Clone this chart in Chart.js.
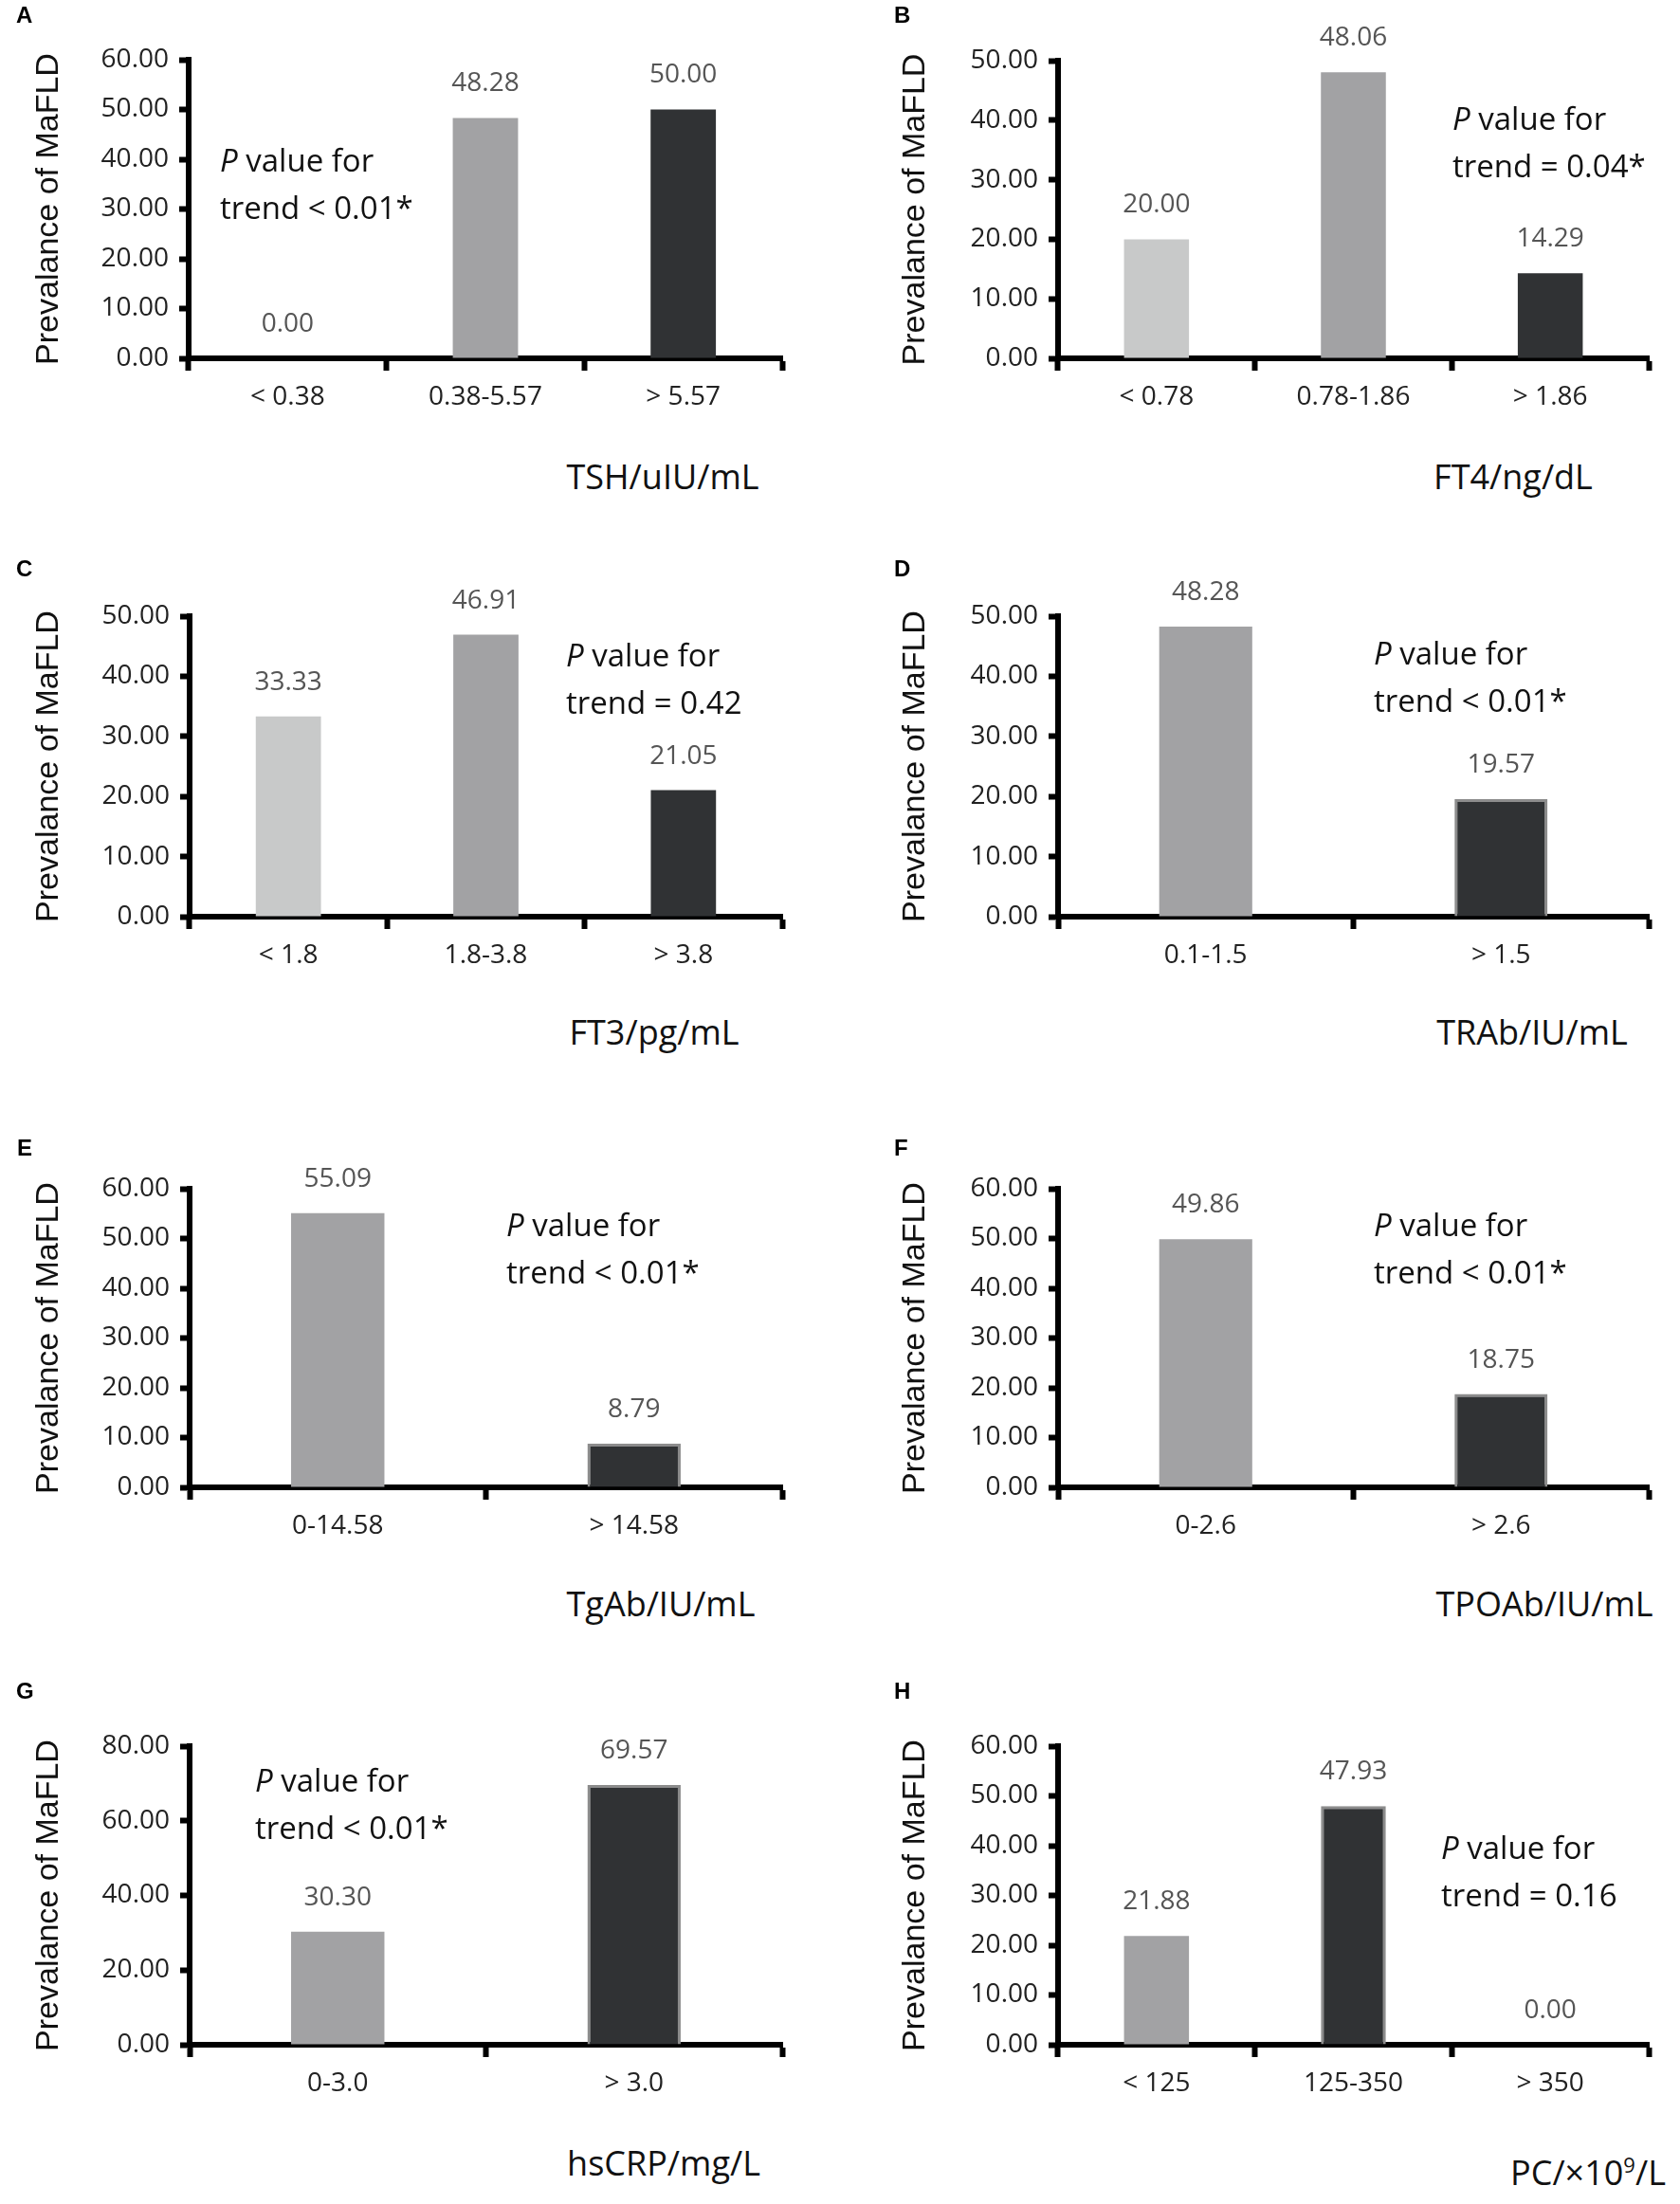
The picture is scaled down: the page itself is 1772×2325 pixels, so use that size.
<!DOCTYPE html>
<html lang="en">
  <head>
    <meta charset="UTF-8" />
    <script src="https://cdn.jsdelivr.net/npm/chart.js"></script>
    <style>
      body {
        margin: 0;
        width: 1772px;
        height: 2325px;
        background: #fff;
        position: relative;
        overflow: hidden;
      }
      canvas {
        position: absolute;
      }
      .letter {
        position: absolute;
        font: bold 24px "Liberation Sans", Arial, sans-serif;
        line-height: 24px;
        color: #000;
      }
      .xtitle {
        position: absolute;
        font: 36px "Open Sans", sans-serif;
        line-height: 36px;
        color: #111;
        transform: translate(-50%, -50%);
        white-space: nowrap;
      }
      .xtitle sup {
        font-size: 22px;
        line-height: 0;
      }
      .pnote {
        position: absolute;
        font: 33px "Open Sans", sans-serif;
        line-height: 50px;
        color: #111;
        white-space: nowrap;
      }
    </style>
  </head>
  <body>
    <div id="figure"></div>

    <script>
      // panel data (prevalence of MaFLD, %)
      const tshLabels = ["< 0.38", "0.38-5.57", "> 5.57"];
      const tshValues = [0.0, 48.28, 50.0];

      const ft4Labels = ["< 0.78", "0.78-1.86", "> 1.86"];
      const ft4Values = [20.0, 48.06, 14.29];

      const ft3Labels = ["< 1.8", "1.8-3.8", "> 3.8"];
      const ft3Values = [33.33, 46.91, 21.05];

      const trabLabels = ["0.1-1.5", "> 1.5"];
      const trabValues = [48.28, 19.57];

      const tgabLabels = ["0-14.58", "> 14.58"];
      const tgabValues = [55.09, 8.79];

      const tpoabLabels = ["0-2.6", "> 2.6"];
      const tpoabValues = [49.86, 18.75];

      const crpLabels = ["0-3.0", "> 3.0"];
      const crpValues = [30.3, 69.57];

      const pcLabels = ["< 125", "125-350", "> 350"];
      const pcValues = [21.88, 47.93, 0.0];

      const LIGHT = "#c8c9c9";
      const MID = "#a2a2a4";
      const DARK = "#303234";

      // page placement of every panel
      const panels = [
        { letter: "A", labels: tshLabels, values: tshValues, colors: [LIGHT, MID, DARK], outline: false,
          max: 60, step: 10, px: 0, py: 0, left: 199, right: 825, top: 63, bottom: 378,
          xTitle: "TSH/uIU/mL", tx: 699, ty: 503, note: "&lt; 0.01*", nx: 232, ny: 170 },
        { letter: "B", labels: ft4Labels, values: ft4Values, colors: [LIGHT, MID, DARK], outline: false,
          max: 50, step: 10, px: 886, py: 0, left: 1116, right: 1739, top: 64, bottom: 378,
          xTitle: "FT4/ng/dL", tx: 1596, ty: 503, note: "= 0.04*", nx: 1532, ny: 126 },
        { letter: "C", labels: ft3Labels, values: ft3Values, colors: [LIGHT, MID, DARK], outline: false,
          max: 50, step: 10, px: 0, py: 587, left: 200, right: 825, top: 650, bottom: 967,
          xTitle: "FT3/pg/mL", tx: 690, ty: 1089, note: "= 0.42", nx: 597, ny: 692 },
        { letter: "D", labels: trabLabels, values: trabValues, colors: [MID, DARK], outline: true,
          max: 50, step: 10, px: 886, py: 587, left: 1116, right: 1739, top: 650, bottom: 967,
          xTitle: "TRAb/IU/mL", tx: 1616, ty: 1089, note: "&lt; 0.01*", nx: 1449, ny: 690 },
        { letter: "E", labels: tgabLabels, values: tgabValues, colors: [MID, DARK], outline: true,
          max: 60, step: 10, px: 0, py: 1191, left: 200, right: 825, top: 1254, bottom: 1569,
          xTitle: "TgAb/IU/mL", tx: 697, ty: 1692, note: "&lt; 0.01*", nx: 534, ny: 1293 },
        { letter: "F", labels: tpoabLabels, values: tpoabValues, colors: [MID, DARK], outline: true,
          max: 60, step: 10, px: 886, py: 1191, left: 1116, right: 1739, top: 1254, bottom: 1569,
          xTitle: "TPOAb/IU/mL", tx: 1629, ty: 1692, note: "&lt; 0.01*", nx: 1449, ny: 1293 },
        { letter: "G", labels: crpLabels, values: crpValues, colors: [MID, DARK], outline: true,
          max: 80, step: 20, px: 0, py: 1779, left: 200, right: 825, top: 1842, bottom: 2157,
          xTitle: "hsCRP/mg/L", tx: 700, ty: 2282, note: "&lt; 0.01*", nx: 269, ny: 1879 },
        { letter: "H", labels: pcLabels, values: pcValues, colors: [MID, DARK, DARK], outline: true,
          max: 60, step: 10, px: 886, py: 1779, left: 1116, right: 1739, top: 1842, bottom: 2157,
          xTitle: "PC/×10<sup>9</sup>/L", tx: 1675, ty: 2292, note: "= 0.16", nx: 1520, ny: 1950 },
      ];

      const letterPos = [[17, 7], [943, 7], [17, 591], [943, 591], [18, 1202], [943, 1202], [17, 1775], [943, 1775]];

      const CANVAS_W = 886;
      const CANVAS_H = 470;

      // numbers above the bars
      const valueLabels = {
        id: "valueLabels",
        afterDatasetsDraw(chart) {
          const ctx = chart.ctx;
          const meta = chart.getDatasetMeta(0);
          const data = chart.data.datasets[0].data;
          ctx.save();
          ctx.font = '28px "Open Sans"';
          ctx.fillStyle = "#555";
          ctx.textAlign = "center";
          ctx.textBaseline = "middle";
          meta.data.forEach((bar, i) => {
            ctx.fillText(data[i].toFixed(2), bar.x, bar.y - 36);
          });
          ctx.restore();
        },
      };

      function addDiv(cls, html, x, y) {
        const d = document.createElement("div");
        d.className = cls;
        d.innerHTML = html;
        d.style.left = x + "px";
        d.style.top = y + "px";
        document.getElementById("figure").appendChild(d);
      }

      function drawPanel(p, idx) {
        const canvas = document.createElement("canvas");
        canvas.width = CANVAS_W;
        canvas.height = CANVAS_H;
        canvas.style.left = p.px + "px";
        canvas.style.top = p.py + "px";
        document.getElementById("figure").appendChild(canvas);

        // y title centre sits ~52px (left column) / ~80px (right column) from panel edge
        const titleCenter = p.px === 0 ? 52 : 80;
        const titleHalf = (34 * 1.2) / 2;
        const padLeft = titleCenter - titleHalf;
        const yWidth = p.left - p.px - padLeft;
        const xHeight = CANVAS_H - (p.bottom - p.py);
        const barPct = p.labels.length === 3 ? 0.33 : 0.315;

        new Chart(canvas.getContext("2d"), {
          type: "bar",
          data: {
            labels: p.labels,
            datasets: [
              {
                data: p.values,
                backgroundColor: p.colors,
                borderColor: p.colors.map((c) => (p.outline && c === DARK ? "#8c8c8c" : c)),
                borderWidth: p.colors.map((c) => (p.outline && c === DARK ? 3 : 0)),
                barPercentage: barPct,
                categoryPercentage: 1,
              },
            ],
          },
          options: {
            responsive: false,
            animation: false,
            devicePixelRatio: 1,
            layout: {
              padding: {
                left: padLeft,
                right: p.px + CANVAS_W - p.right,
                top: p.top - p.py,
                bottom: 0,
              },
            },
            plugins: {
              legend: { display: false },
              tooltip: { enabled: false },
            },
            scales: {
              x: {
                grid: {
                  display: true,
                  drawOnChartArea: false,
                  drawTicks: true,
                  tickLength: 13,
                  tickWidth: 6,
                  tickColor: "#000",
                  offset: true,
                },
                border: { display: true, width: 6, color: "#000" },
                ticks: {
                  color: "#222",
                  font: { family: "Open Sans", size: 28 },
                  padding: 11,
                  maxRotation: 0,
                },
                afterFit(scale) {
                  scale.height = xHeight;
                },
              },
              y: {
                min: 0,
                max: p.max,
                grid: {
                  display: true,
                  drawOnChartArea: false,
                  drawTicks: true,
                  tickLength: 10,
                  tickWidth: 6,
                  tickColor: "#000",
                },
                border: { display: true, width: 6, color: "#000" },
                ticks: {
                  stepSize: p.step,
                  color: "#222",
                  font: { family: "Open Sans", size: 28 },
                  padding: 11,
                  callback: (v) => Number(v).toFixed(2),
                },
                title: {
                  display: true,
                  text: "Prevalance of MaFLD",
                  color: "#111",
                  font: { family: "Liberation Sans", size: 34 },
                  padding: 0,
                },
                afterFit(scale) {
                  scale.width = yWidth;
                },
              },
            },
          },
          plugins: [valueLabels],
        });

        addDiv("letter", p.letter, letterPos[idx][0], letterPos[idx][1] - 3);
        addDiv("xtitle", p.xTitle, p.tx, p.ty);
        addDiv("pnote", "<i>P</i> value for<br>trend " + p.note, p.nx, p.ny - 26);
      }

      Promise.all([
        document.fonts.load('28px "Open Sans"'),
        document.fonts.load('34px "Liberation Sans"'),
      ]).finally(() => {
        panels.forEach(drawPanel);
      });
    </script>
  </body>
</html>
